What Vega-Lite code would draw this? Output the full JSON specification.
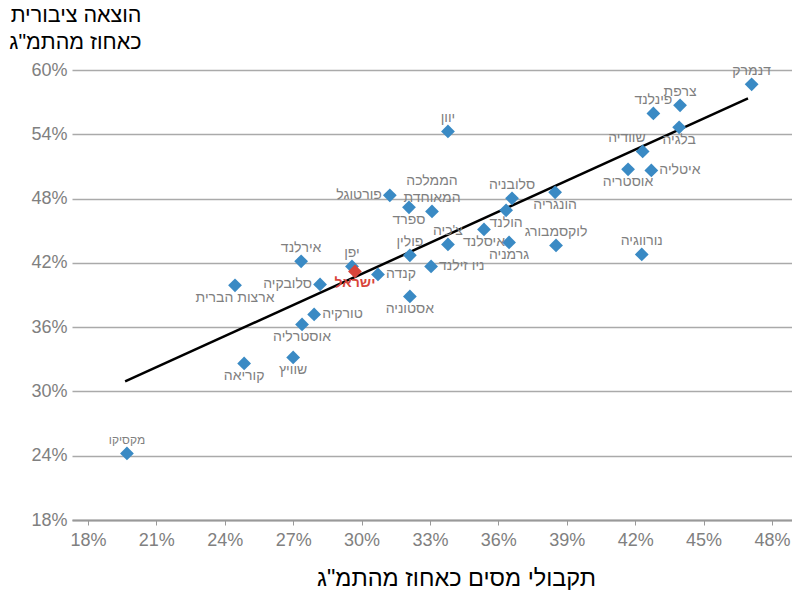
{
  "$schema": "https://vega.github.io/schema/vega-lite/v6.json",
  "width": 720,
  "height": 450,
  "autosize": {"type": "none"},
  "padding": {"left": 72, "top": 70, "right": 0, "bottom": 71},
  "background": "white",
  "config": {
    "font": "Liberation Sans",
    "view": {"stroke": null}
  },
  "datasets": {
    "countries": [
      {"country": "מקסיקו", "tax": 19.71, "spend": 24.21},
      {"country": "קוריאה", "tax": 24.85, "spend": 32.61},
      {"country": "ארצות הברית", "tax": 24.45, "spend": 39.9},
      {"country": "שוויץ", "tax": 27.0, "spend": 33.17},
      {"country": "אוסטרליה", "tax": 27.39, "spend": 36.25},
      {"country": "טורקיה", "tax": 27.92, "spend": 37.19},
      {"country": "סלובקיה", "tax": 28.18, "spend": 39.99},
      {"country": "אירלנד", "tax": 27.35, "spend": 42.14},
      {"country": "יפן", "tax": 29.58, "spend": 41.67},
      {"country": "קנדה", "tax": 30.72, "spend": 40.92},
      {"country": "אסטוניה", "tax": 32.12, "spend": 38.87},
      {"country": "פולין", "tax": 32.12, "spend": 42.7},
      {"country": "ניו זילנד", "tax": 33.05, "spend": 41.67},
      {"country": "צ'כיה", "tax": 33.79, "spend": 43.72},
      {"country": "איסלנד", "tax": 35.37, "spend": 45.12},
      {"country": "גרמניה", "tax": 36.47, "spend": 43.91},
      {"country": "הולנד", "tax": 36.34, "spend": 46.9},
      {"country": "סלובניה", "tax": 36.6, "spend": 48.02},
      {"country": "הונגריה", "tax": 38.49, "spend": 48.58},
      {"country": "לוקסמבורג", "tax": 38.53, "spend": 43.63},
      {"country": "פורטוגל", "tax": 31.24, "spend": 48.3},
      {"country": "ספרד", "tax": 32.08, "spend": 47.18},
      {"country": "הממלכה\nהמאוחדת", "tax": 33.09, "spend": 46.8},
      {"country": "יוון", "tax": 33.79, "spend": 54.27},
      {"country": "צרפת", "tax": 43.97, "spend": 56.7},
      {"country": "פינלנד", "tax": 42.8, "spend": 55.95},
      {"country": "בלגיה", "tax": 43.93, "spend": 54.65},
      {"country": "שוודיה", "tax": 42.33, "spend": 52.4},
      {"country": "אוסטריה", "tax": 41.69, "spend": 50.73},
      {"country": "איטליה", "tax": 42.71, "spend": 50.63},
      {"country": "נורווגיה", "tax": 42.29, "spend": 42.79},
      {"country": "דנמרק", "tax": 47.11, "spend": 58.66}
    ],
    "israel": [
      {"country": "ישראל", "tax": 29.71, "spend": 41.2}
    ],
    "trend": [
      {"tax": 19.63, "spend": 30.93},
      {"tax": 46.95, "spend": 57.36}
    ]
  },
  "encoding": {
    "x": {
      "field": "tax", "type": "quantitative",
      "scale": {"domain": [17.3, 48.88], "nice": false, "zero": false},
      "axis": {
        "values": [18, 21, 24, 27, 30, 33, 36, 39, 42, 45, 48],
        "labelExpr": "datum.value + '%'",
        "grid": false,
        "domainColor": "#999999", "domainWidth": 2,
        "tickColor": "#999999", "tickSize": 5, "tickWidth": 1,
        "labelColor": "#808080", "labelFontSize": 18, "labelPadding": 6,
        "title": "תקבולי מסים כאחוז מהתמ\"ג",
        "titleFontSize": 23.5, "titleFontWeight": "normal", "titleColor": "#000000",
        "titleX": 384, "titleY": 58, "titleAlign": "center", "titleBaseline": "middle"
      }
    },
    "y": {
      "field": "spend", "type": "quantitative",
      "scale": {"domain": [18, 60], "nice": false, "zero": false},
      "axis": {
        "values": [18, 24, 30, 36, 42, 48, 54, 60],
        "labelExpr": "datum.value + '%'",
        "grid": true, "gridColor": "#aaaaaa", "gridWidth": 1.5,
        "domain": false, "ticks": false,
        "labelColor": "#808080", "labelFontSize": 18, "labelPadding": 5,
        "title": ["הוצאה ציבורית", "כאחוז מהתמ\"ג"],
        "titleAngle": 0, "titleAlign": "right", "titleBaseline": "middle",
        "titleX": 69, "titleY": -55,
        "titleFontSize": 21.5, "titleFontWeight": "normal", "titleColor": "#000000",
        "titleLineHeight": 27
      }
    }
  },
  "layer": [
    {
      "data": {"name": "trend"},
      "mark": {"type": "line", "color": "#000000", "strokeWidth": 2.5},
      "encoding": {}
    },
    {
      "data": {"name": "countries"},
      "mark": {"type": "point", "shape": "diamond", "filled": true, "size": 190, "color": "#3a8ac4", "opacity": 1}
    },
    {
      "data": {"name": "israel"},
      "mark": {"type": "point", "shape": "diamond", "filled": true, "size": 190, "color": "#d9453a", "opacity": 1}
    },
    {
      "data": {"name": "countries"},
      "transform": [{"filter": {"field": "country", "oneOf": ["אירלנד", "יפן", "פולין", "צ'כיה", "סלובניה", "לוקסמבורג", "יוון", "דנמרק", "צרפת", "פינלנד", "נורווגיה"]}}],
      "mark": {"type": "text", "baseline": "bottom", "align": "center", "dy": -6, "fontSize": 14, "color": "#7f7f7f"},
      "encoding": {"text": {"field": "country"}}
    },
    {
      "data": {"name": "countries"},
      "transform": [{"filter": {"field": "country", "oneOf": ["הממלכה\nהמאוחדת"]}}],
      "mark": {"type": "text", "baseline": "bottom", "align": "center", "dy": -23, "fontSize": 14, "color": "#7f7f7f", "lineBreak": "\n", "lineHeight": 17},
      "encoding": {"text": {"field": "country"}}
    },
    {
      "data": {"name": "countries"},
      "transform": [{"filter": {"field": "country", "oneOf": ["מקסיקו"]}}],
      "mark": {"type": "text", "baseline": "bottom", "align": "center", "dy": -6, "fontSize": 12, "color": "#7f7f7f"},
      "encoding": {"text": {"field": "country"}}
    },
    {
      "data": {"name": "countries"},
      "transform": [{"filter": {"field": "country", "oneOf": ["שוודיה"]}}],
      "mark": {"type": "text", "baseline": "bottom", "align": "right", "dx": 3, "dy": -6, "fontSize": 14, "color": "#7f7f7f"},
      "encoding": {"text": {"field": "country"}}
    },
    {
      "data": {"name": "countries"},
      "transform": [{"filter": {"field": "country", "oneOf": ["קוריאה", "ארצות הברית", "שוויץ", "אוסטרליה", "אסטוניה", "איסלנד", "גרמניה", "הולנד", "הונגריה", "ספרד", "בלגיה", "אוסטריה"]}}],
      "mark": {"type": "text", "baseline": "top", "align": "center", "dy": 6, "fontSize": 14, "color": "#7f7f7f"},
      "encoding": {"text": {"field": "country"}}
    },
    {
      "data": {"name": "countries"},
      "transform": [{"filter": {"field": "country", "oneOf": ["סלובקיה", "פורטוגל"]}}],
      "mark": {"type": "text", "baseline": "middle", "align": "right", "dx": -8, "fontSize": 14, "color": "#7f7f7f"},
      "encoding": {"text": {"field": "country"}}
    },
    {
      "data": {"name": "countries"},
      "transform": [{"filter": {"field": "country", "oneOf": ["טורקיה", "קנדה", "ניו זילנד", "איטליה"]}}],
      "mark": {"type": "text", "baseline": "middle", "align": "left", "dx": 8, "fontSize": 14, "color": "#7f7f7f"},
      "encoding": {"text": {"field": "country"}}
    },
    {
      "data": {"name": "israel"},
      "mark": {"type": "text", "baseline": "top", "align": "center", "dy": 5, "fontSize": 14, "fontWeight": "bold", "color": "#d9453a"},
      "encoding": {"text": {"field": "country"}}
    }
  ]
}
